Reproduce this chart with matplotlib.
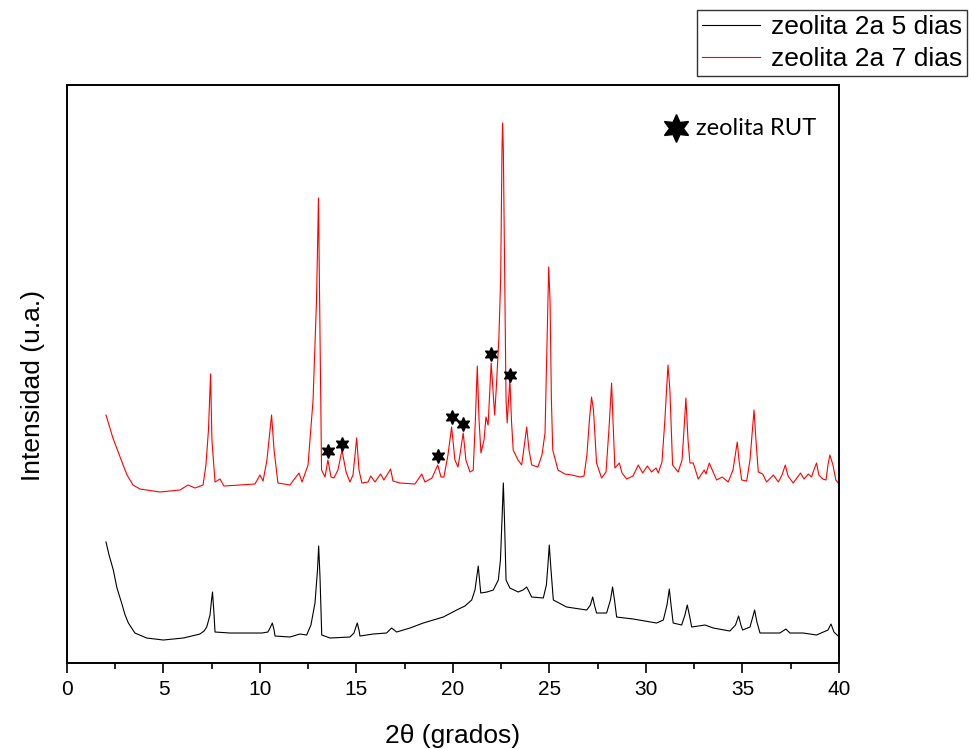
import matplotlib
matplotlib.use("Agg")
import matplotlib.pyplot as plt
from matplotlib.lines import Line2D

plt.rcParams["font.family"] = ["Liberation Sans", "DejaVu Sans"]

# Difractograma zeolita 2a, 7 dias (2theta, intensidad u.a.)
TT_7D = [2.02, 2.38, 2.75, 3.11, 3.42, 3.78, 4.82, 5.85, 6.27, 6.63, 7.05, 7.2, 7.33,
         7.44, 7.51, 7.67, 7.93, 8.13, 8.96, 9.74, 10.0, 10.16, 10.36, 10.6, 10.73,
         10.93, 11.55, 12.02, 12.18, 12.49, 12.75, 12.93, 13.03, 13.11, 13.19, 13.37,
         13.52, 13.68, 13.83, 14.04, 14.25, 14.46, 14.66, 14.82, 15.01, 15.13, 15.28,
         15.6, 15.74, 15.96, 16.25, 16.42, 16.77, 16.89, 17.25, 18.03, 18.38, 18.55,
         18.91, 19.21, 19.38, 19.53, 19.74, 19.93, 20.1, 20.26, 20.36, 20.53, 20.67,
         20.88, 21.05, 21.16, 21.26, 21.35, 21.45, 21.61, 21.71, 21.82, 21.98, 22.16,
         22.26, 22.38, 22.47, 22.54, 22.57, 22.61, 22.68, 22.75, 22.81, 22.88, 22.95,
         23.03, 23.12, 23.37, 23.56, 23.7, 23.82, 23.94, 24.08, 24.4, 24.61, 24.77,
         24.89, 24.96, 25.03, 25.1, 25.17, 25.44, 25.8, 26.17, 26.58, 26.79, 26.94,
         27.07, 27.18, 27.28, 27.44, 27.7, 27.93, 28.08, 28.22, 28.29, 28.39, 28.62,
         28.76, 29.0, 29.33, 29.6, 29.83, 30.07, 30.29, 30.52, 30.64, 30.83, 30.98,
         31.14, 31.24, 31.38, 31.67, 31.87, 31.97, 32.07, 32.18, 32.28, 32.45, 32.71,
         33.02, 33.11, 33.28, 33.66, 33.95, 34.26, 34.51, 34.73, 34.82, 34.96, 35.22,
         35.39, 35.6, 35.7, 35.82, 36.05, 36.25, 36.6, 36.86, 37.05, 37.22, 37.36,
         37.63, 38.01, 38.19, 38.41, 38.58, 38.7, 38.84, 38.96, 39.16, 39.33, 39.43,
         39.53, 39.69, 39.84, 39.96]
INT_7D = [248, 225, 206, 188, 178, 174, 171, 173, 178, 175, 178, 198, 233,
          289, 223, 181, 184, 177, 178, 179, 188, 182, 203, 248, 213,
          180, 178, 190, 181, 198, 263, 363, 465, 333, 193, 186,
          203, 186, 185, 193, 213, 191, 181, 188, 225, 193, 180,
          181, 187, 181, 189, 183, 194, 182, 180, 179, 189, 181,
          185, 198, 186, 186, 208, 236, 203, 196, 208, 230, 203,
          191, 193, 243, 297, 243, 210, 223, 246, 238, 300, 248,
          280, 326, 383, 513, 540, 513, 390, 263, 240, 263, 283,
          243, 213, 203, 198, 218, 236, 213, 198, 196, 208, 230,
          333, 396, 363, 263, 213, 193, 189, 188, 186, 187, 208,
          243, 266, 253, 200, 185, 191, 233, 280, 243, 195, 200,
          190, 184, 187, 198, 190, 197, 191, 195, 190, 201, 243,
          298, 273, 198, 191, 203, 233, 265, 223, 200, 200, 184,
          193, 189, 200, 183, 186, 181, 193, 221, 203, 183, 182,
          203, 253, 223, 191, 189, 181, 188, 181, 188, 198, 187,
          180, 190, 184, 189, 186, 193, 200, 188, 184, 183, 198,
          208, 198, 183, 180]

# Difractograma zeolita 2a, 5 dias
TT_5D = [2.02, 2.18, 2.4, 2.59, 2.83, 3.01, 3.18, 3.52, 4.13, 4.99, 6.03, 6.89, 7.1,
         7.24, 7.41, 7.49, 7.54, 7.62, 7.67, 8.45, 9.48, 10.1, 10.41, 10.52, 10.64,
         10.73, 10.78, 11.55, 12.07, 12.42, 12.64, 12.85, 12.98, 13.04, 13.11, 13.2,
         13.63, 14.66, 14.87, 15.04, 15.13, 15.18, 15.87, 16.56, 16.82, 17.08, 17.77,
         18.46, 19.5, 20.19, 20.62, 20.97, 21.14, 21.31, 21.4, 21.44, 21.76, 22.09,
         22.35, 22.46, 22.54, 22.61, 22.67, 22.75, 22.95, 23.38, 23.63, 23.82, 24.08,
         24.68, 24.84, 24.92, 24.99, 25.08, 25.2, 25.89, 26.93, 27.12, 27.24, 27.33,
         27.44, 27.96, 28.16, 28.27, 28.37, 28.48, 29.34, 30.55, 30.9, 31.09, 31.21,
         31.3, 31.41, 31.85, 32.02, 32.14, 32.25, 32.37, 33.06, 33.49, 34.35, 34.64,
         34.8, 34.92, 35.01, 35.39, 35.52, 35.63, 35.75, 35.91, 36.94, 37.25, 37.46,
         38.15, 38.84, 39.43, 39.59, 39.74, 39.96]
INT_5D = [121, 108, 93, 75, 60, 48, 40, 30, 25, 23, 25, 29, 32,
          36, 48, 63, 71, 48, 31, 30, 30, 30, 31, 35, 40,
          33, 27, 26, 29, 28, 38, 60, 93, 117, 86, 28,
          25, 26, 30, 40, 33, 27, 29, 30, 35, 31, 35,
          40, 46, 53, 57, 63, 73, 97, 78, 70, 71, 73,
          83, 103, 143, 180, 143, 83, 75, 71, 73, 76, 66,
          65, 78, 98, 118, 93, 63, 56, 53, 58, 66, 58,
          50, 50, 63, 76, 63, 46, 44, 40, 43, 58, 74,
          58, 40, 38, 48, 58, 48, 36, 38, 35, 32, 38,
          47, 38, 33, 36, 45, 53, 41, 30, 30, 34, 30,
          30, 28, 33, 39, 31, 27]

# Picos asignados a la zeolita RUT (muestra de 7 dias)
RUT_TT = [13.52, 14.25, 19.21, 19.93, 20.53, 21.98, 22.95]
RUT_INT = [212, 219, 207, 246, 239, 309, 288]

SERIES_LABELS = ["zeolita 2a 5 dias", "zeolita 2a 7 dias"]

fig = plt.figure(figsize=(9.71, 7.49), dpi=100)
ax = fig.add_axes([0.069, 0.1148, 0.795, 0.7717])

ax.plot(TT_5D, INT_5D, color="black", lw=0.8, label=SERIES_LABELS[0])
ax.plot(TT_7D, INT_7D, color="#ff0000", lw=0.8, label=SERIES_LABELS[1])
ax.plot(RUT_TT, RUT_INT, ls="none", marker=(6, 1, 0), ms=10, color="black")

ax.set_xlim(0, 40)
ax.set_ylim(0, 578)
ax.set_xticks(range(0, 41, 5))
ax.set_xticks([x + 2.5 for x in range(0, 40, 5)], minor=True)
ax.set_yticks([])
ax.tick_params(axis="x", which="major", direction="out", length=7, width=1.2,
               labelsize=15, pad=5)
ax.tick_params(axis="x", which="minor", direction="out", length=4, width=1.2)
ax.tick_params(top=False)
for sp in ax.spines.values():
    sp.set_linewidth(1.4)

ax.set_xlabel("2\u03b8 (grados)", fontsize=19, labelpad=18)
ax.set_ylabel("Intensidad (u.a.)", fontsize=19)
ax.yaxis.set_label_coords(-0.029, 0.48)

# leyenda del marcador de picos RUT
ax.plot([0.789], [0.9256], transform=ax.transAxes, marker=(6, 1, 0), ms=20,
        color="black", clip_on=False)
ax.text(0.815, 0.9256, "zeolita RUT", transform=ax.transAxes, fontsize=17,
        family=["Lato", "DejaVu Sans"], va="center", ha="left")

handles = [Line2D([], [], color="black", lw=0.8),
           Line2D([], [], color="#ff0000", lw=0.8)]
leg = fig.legend(handles, SERIES_LABELS, loc="upper right",
                 bbox_to_anchor=(0.996, 0.987), fontsize=19, frameon=True,
                 fancybox=False, edgecolor="black", handlelength=2.2,
                 borderpad=0.2, labelspacing=0.3, handletextpad=0.4,
                 borderaxespad=0)
leg.get_frame().set_linewidth(1.0)

fig.savefig("out.png", dpi=100)
